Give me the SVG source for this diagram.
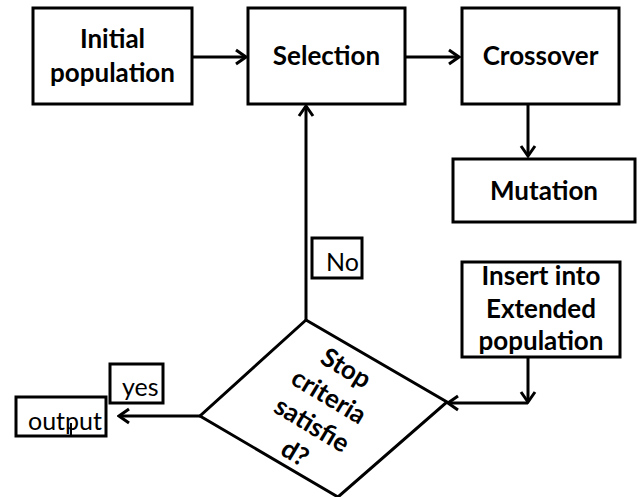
<svg xmlns="http://www.w3.org/2000/svg" width="640" height="497" viewBox="0 0 640 497">
<style>
.box{fill:#fff;stroke:#000;stroke-width:3}
.b{font-family:Lato,"Liberation Sans",sans-serif;font-weight:bold;font-size:26px;fill:#000;text-anchor:middle}
.r{font-family:Lato,"Liberation Sans",sans-serif;font-size:25px;fill:#000}
.c{fill:none;stroke:#000;stroke-width:3}
</style>
<defs>
<marker id="arr" viewBox="-13 -9 15 18" refX="0" refY="0" markerWidth="15" markerHeight="18" markerUnits="userSpaceOnUse" orient="auto">
<path d="M-10,-7 L0,0 L-10,7" fill="none" stroke="#000" stroke-width="3"/>
</marker>
</defs>
<rect width="640" height="497" fill="#fff"/>
<g id="connectors">
<path class="c" d="M192,57 L246,57" marker-end="url(#arr)"/>
<path class="c" d="M405,57 L459,57" marker-end="url(#arr)"/>
<path class="c" d="M528,104 L528,156" marker-end="url(#arr)"/>
<path class="c" d="M306,320 L306,106" marker-end="url(#arr)"/>
<path class="c" d="M528,357 L528,402" marker-end="url(#arr)"/>
<path class="c" d="M528,403 L448,403" marker-end="url(#arr)"/>
<path class="c" d="M200,416 L119,416" marker-end="url(#arr)"/>
</g>
<g id="initial">
<rect class="box" x="33" y="8" width="159" height="96"/>
<text class="b" x="112.5" y="48">Initial</text>
<text class="b" x="112.5" y="82">population</text>
</g>
<g id="selection">
<rect class="box" x="248" y="8" width="157" height="96"/>
<text class="b" x="326.5" y="65">Selection</text>
</g>
<g id="crossover">
<rect class="box" x="462" y="8" width="157" height="96"/>
<text class="b" x="540.5" y="65">Crossover</text>
</g>
<g id="mutation">
<rect class="box" x="453" y="159" width="182" height="63"/>
<text class="b" x="544" y="200">Mutation</text>
</g>
<g id="insert">
<rect class="box" x="462" y="262" width="158" height="95"/>
<text class="b" x="541" y="285">Insert into</text>
<text class="b" x="541" y="318">Extended</text>
<text class="b" x="541" y="350">population</text>
</g>
<g id="no">
<rect class="box" x="312" y="238" width="50" height="40"/>
<text class="r" x="326" y="271">No</text>
</g>
<g id="decision">
<polygon class="box" points="306,320 447,402 338,497 200,416"/>
<g transform="translate(320.5,410.5) rotate(31)">
<text class="b" x="0" y="-40.5">Stop</text>
<text class="b" x="0" y="-7.5">criteria</text>
<text class="b" x="0" y="25.5">satisfie</text>
<text class="b" x="0" y="58.5">d?</text>
</g>
</g>
<g id="yes">
<rect class="box" x="110" y="364" width="53" height="39"/>
<text class="r" x="122" y="396">yes</text>
</g>
<g id="output">
<rect class="box" x="16" y="397" width="90" height="39"/>
<text class="r" x="28" y="430">output</text>
<line x1="71" y1="423" x2="71" y2="436" stroke="#000" stroke-width="2"/>
</g>
</svg>
